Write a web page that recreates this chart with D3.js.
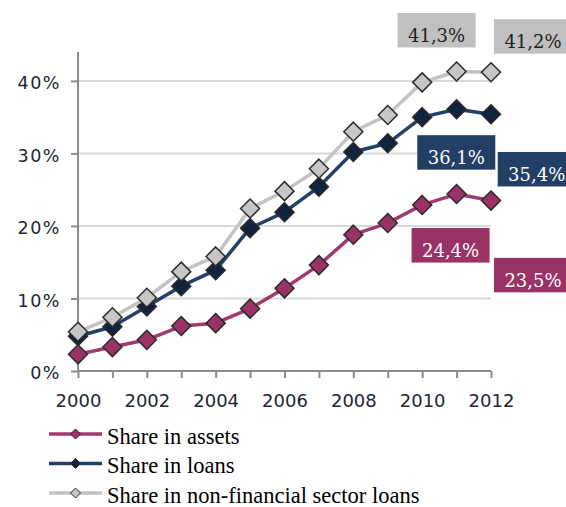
<!DOCTYPE html>
<html>
<head>
<meta charset="utf-8">
<script src="https://cdn.jsdelivr.net/npm/d3@7"></script>
<style>
  html, body { margin: 0; padding: 0; background: #ffffff; }
  svg { display: block; }
</style>
</head>
<body>
<svg id="chart" width="566" height="507"></svg>
<script>
// ---- data ----
const years = [2000, 2001, 2002, 2003, 2004, 2005, 2006, 2007, 2008, 2009, 2010, 2011, 2012];
const seriesNames = ["Share in assets", "Share in loans", "Share in non-financial sector loans"];
const shareAssets = [2.3, 3.3, 4.3, 6.2, 6.6, 8.6, 11.4, 14.6, 18.8, 20.4, 22.9, 24.4, 23.5];
const shareLoans = [4.8, 6.1, 8.9, 11.7, 13.9, 19.7, 21.9, 25.4, 30.2, 31.4, 35.0, 36.1, 35.4];
const shareNonFin = [5.4, 7.4, 10.1, 13.7, 15.8, 22.4, 24.8, 27.9, 33.0, 35.3, 39.8, 41.3, 41.2];
const yTicks = [0, 10, 20, 30, 40];
const yTickLabels = ["0%", "10%", "20%", "30%", "40%"];
const xTicks = [2000, 2002, 2004, 2006, 2008, 2010, 2012];
const labelYears = [2011, 2012];
const labelTexts = [["24,4%", "23,5%"], ["36,1%", "35,4%"], ["41,3%", "41,2%"]];

// ---- styles ----
const lineColors = ["#a23a6e", "#22406a", "#c3c3c3"];
const markerFills = ["#993366", "#12233e", "#c6c6c6"];
const boxFills = ["#993366", "#243f66", "#c0c0c0"];
const boxText = ["#ffffff", "#ffffff", "#1e1e1e"];

const svg = d3.select("#chart");
const x = d3.scaleLinear().domain([2000, 2012]).range([78, 491]);
const y = d3.scaleLinear().domain([0, 44]).range([371, 51.9]);

// gridlines
svg.append("g").selectAll("line").data(yTicks.filter(d => d > 0)).join("line")
  .attr("x1", x(2000)).attr("x2", x(2012))
  .attr("y1", d => y(d)).attr("y2", d => y(d))
  .attr("stroke", "#d9d9d9").attr("stroke-width", 2);

// y axis
const yAxis = d3.axisLeft(y).tickValues(yTicks).tickSize(7).tickPadding(10)
  .tickFormat((d, i) => yTickLabels[i]);
const gy = svg.append("g").attr("transform", `translate(${x(2000)},0)`).call(yAxis);
gy.select(".domain").attr("stroke", "#8c8c8c").attr("stroke-width", 2)
  .attr("d", `M0,${y(44)}V${y(0)}`);
gy.selectAll(".tick line").attr("stroke", "#8c8c8c").attr("stroke-width", 2);
gy.selectAll(".tick text").attr("font-family", "DejaVu Sans, Verdana, sans-serif")
  .attr("font-size", 17.5).attr("fill", "#1d2636").attr("dy", "0.45em")
  .attr("letter-spacing", 1.5);

// x axis
const xAxis = d3.axisBottom(x).tickValues(years).tickSize(7).tickPadding(16)
  .tickFormat(d => xTicks.includes(d) ? String(d) : "");
const gx = svg.append("g").attr("transform", `translate(0,${y(0)})`).call(xAxis);
gx.select(".domain").attr("stroke", "#8c8c8c").attr("stroke-width", 2)
  .attr("d", `M${x(2000)},0H${x(2012)}`);
gx.selectAll(".tick line").attr("stroke", "#8c8c8c").attr("stroke-width", 2);
gx.selectAll(".tick text").attr("font-family", "DejaVu Sans, Verdana, sans-serif")
  .attr("font-size", 18).attr("fill", "#1d2636");

// series
const allSeries = [shareAssets, shareLoans, shareNonFin];
const line = d3.line().x((d, i) => x(years[i])).y(d => y(d));
const diamond = r => `M0,${-r}L${r},0L0,${r}L${-r},0Z`;

[0, 1, 2].forEach(si => {
  const vals = allSeries[si];
  const g = svg.append("g");
  g.append("path").datum(vals).attr("d", line).attr("fill", "none")
    .attr("stroke", lineColors[si]).attr("stroke-width", 3.5).attr("stroke-linejoin", "round");
  g.selectAll("path.m").data(vals).join("path").attr("class", "m")
    .attr("transform", (d, i) => `translate(${x(years[i])},${y(d)})`)
    .attr("d", diamond(9.5))
    .attr("fill", markerFills[si]).attr("stroke", "#2b2b2b").attr("stroke-width", 1.5);
});

// value boxes
const boxW = 78, boxH = 34.5;
const boxOffsets = [
  [[-45, 34], [3, 57.3]],
  [[-39.3, 26], [6.7, 37.7]],
  [[-59, -58.5], [3, -53]]
];
labelTexts.forEach((texts, si) => {
  texts.forEach((t, k) => {
    const yr = labelYears[k];
    const vi = years.indexOf(yr);
    const bx = x(yr) + boxOffsets[si][k][0];
    const by = y(allSeries[si][vi]) + boxOffsets[si][k][1];
    svg.append("rect").attr("x", bx).attr("y", by).attr("width", boxW).attr("height", boxH)
      .attr("fill", boxFills[si]);
    svg.append("text").attr("x", bx + boxW / 2).attr("y", by + 29)
      .attr("text-anchor", "middle")
      .attr("font-family", "DejaVu Serif, Cambria, serif").attr("font-size", 18)
      .attr("fill", boxText[si]).text(t);
  });
});

// legend
const lg = svg.append("g");
seriesNames.forEach((name, si) => {
  const base = 443.5 + si * 29.5;
  const ly = base - 9.5;
  lg.append("line").attr("x1", 49).attr("x2", 102).attr("y1", ly).attr("y2", ly)
    .attr("stroke", lineColors[si]).attr("stroke-width", 3.5);
  lg.append("path").attr("transform", `translate(75.5,${ly})`).attr("d", diamond(5))
    .attr("fill", markerFills[si]).attr("stroke", "#2b2b2b").attr("stroke-width", 1);
  lg.append("text").attr("x", 107).attr("y", base)
    .attr("font-family", "Liberation Serif, Cambria, serif").attr("font-size", 22.5)
    .attr("fill", "#000000").text(name);
});
</script>
</body>
</html>
